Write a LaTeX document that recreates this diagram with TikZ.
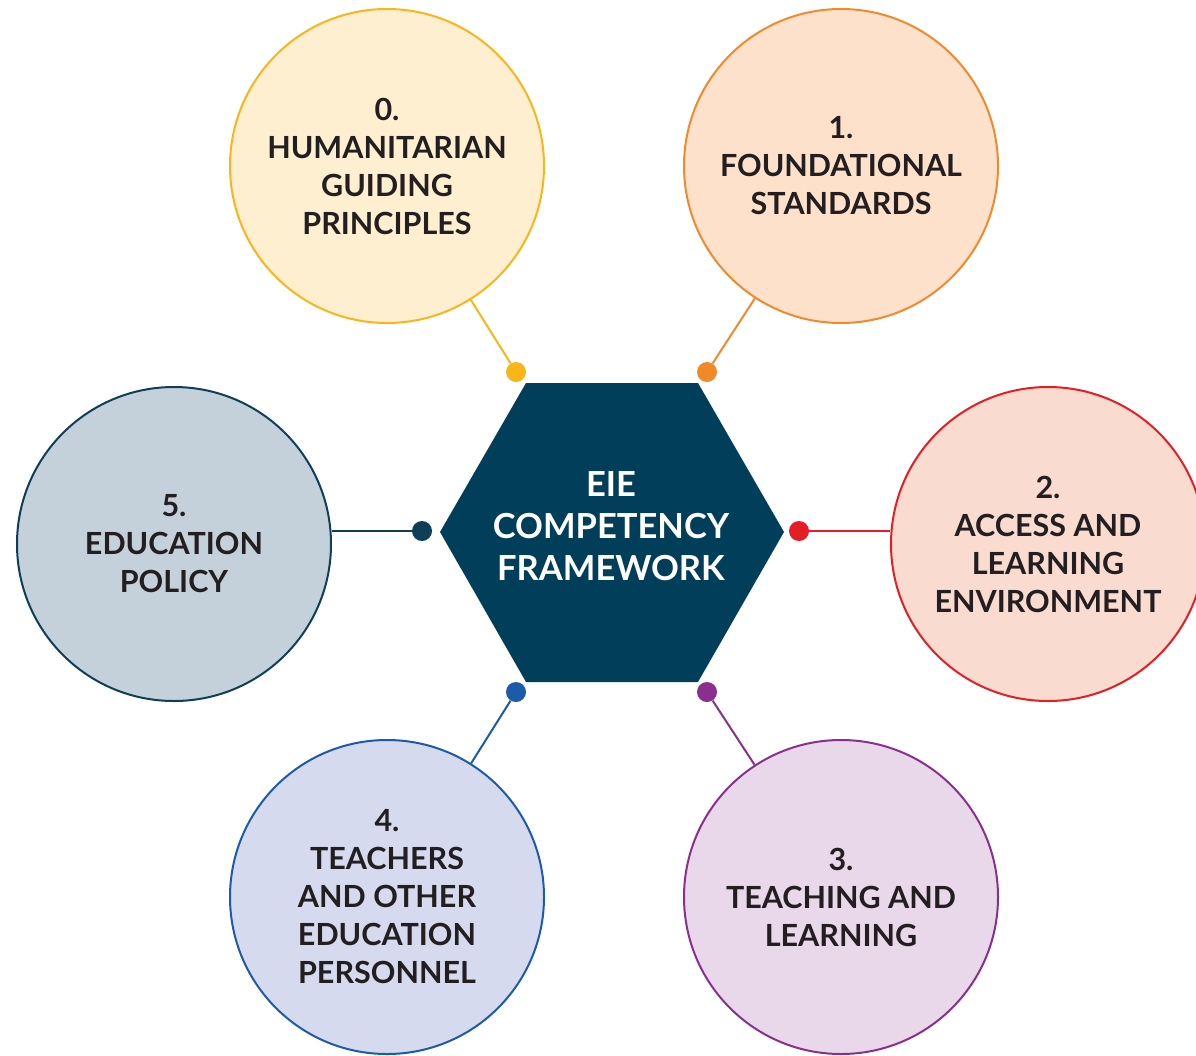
\documentclass[tikz,border=0pt]{standalone}
\usepackage{fontspec}
\setmainfont{Lato}
\definecolor{txt}{HTML}{231F20}
\definecolor{hexc}{HTML}{003E5A}
\definecolor{yb}{HTML}{F9B51A}\definecolor{yf}{HTML}{FDEFD0}
\definecolor{ob}{HTML}{F08A2C}\definecolor{of}{HTML}{FDE1CA}
\definecolor{rb}{HTML}{E31E24}\definecolor{rf}{HTML}{FADBD0}
\definecolor{pb}{HTML}{8B2F8E}\definecolor{pf}{HTML}{E8D8EA}
\definecolor{bb}{HTML}{1C5AAA}\definecolor{bf}{HTML}{D5DAEE}
\definecolor{nb}{HTML}{0E3E58}\definecolor{nf}{HTML}{C5D1DA}
\tikzset{
  topic/.style={circle, draw=#1, line width=2pt, minimum size=314pt, inner sep=0pt,
    align=center, text=txt, font=\fontsize{30.5}{38}\selectfont\bfseries},
  knob/.style={circle, fill=#1, minimum size=20pt, inner sep=0pt},
  link/.style={draw=#1, line width=2pt},
}
\begin{document}
\begin{tikzpicture}[x=1pt,y=-1pt]
\useasboundingbox (0,0) rectangle (1196,1055);
\clip (0,0) rectangle (1196,1055);
% hexagon
\fill[hexc] (440,532) -- (526,383) -- (698,383) -- (784,532) -- (698,682) -- (526,682) -- cycle;
\node[align=center, text=white, font=\fontsize{34.5}{42}\selectfont\bfseries] (hex) at (611,526) {EIE\\COMPETENCY\\FRAMEWORK};
% knobs
\node[knob=yb] (k0) at (516,372) {};
\node[knob=ob!90!orange] (k1) at (707,372) {};
\node[knob=rb] (k2) at (799,531) {};
\node[knob=pb] (k3) at (707,692) {};
\node[knob=bb] (k4) at (516,692) {};
\node[knob=nb] (k5) at (422,531) {};
% circles
\node[topic=yb, fill=yf] (c0) at (387,166) {0.\\HUMANITARIAN\\GUIDING\\PRINCIPLES};
\node[topic=ob, fill=of] (c1) at (841,166) {1.\\FOUNDATIONAL\\STANDARDS};
\node[topic=rb, fill=rf] (c2) at (1048,544) {2.\\ACCESS AND\\LEARNING\\ENVIRONMENT};
\node[topic=pb, fill=pf] (c3) at (841,897) {3.\\TEACHING AND\\LEARNING};
\node[topic=bb, fill=bf] (c4) at (387,897) {4.\\TEACHERS\\AND OTHER\\EDUCATION\\PERSONNEL};
\node[topic=nb, fill=nf] (c5) at (174,544) {5.\\EDUCATION\\POLICY};
% connectors
\draw[link=yb] (k0) -- (c0);
\draw[link=ob] (k1) -- (c1);
\draw[link=rb] (k2) -- (k2 -| c2.west);
\draw[link=pb] (k3) -- (c3);
\draw[link=bb] (k4) -- (c4);
\draw[link=nb] (k5) -- (k5 -| c5.east);
\end{tikzpicture}
\end{document}
